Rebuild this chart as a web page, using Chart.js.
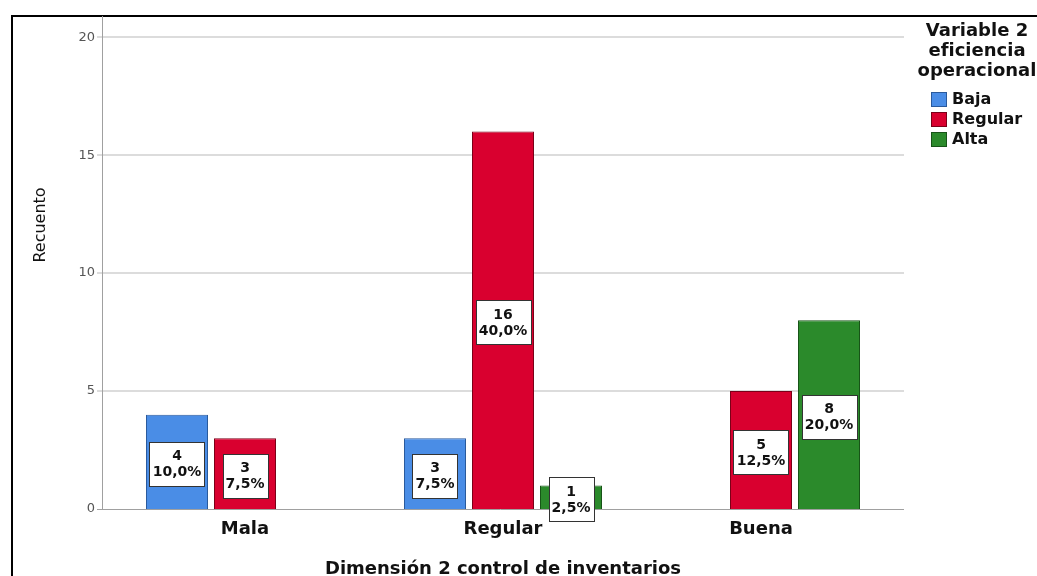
<!DOCTYPE html>
<html lang="es">
<head>
<meta charset="utf-8">
<title>Dimensión 2 control de inventarios</title>
<script src="https://cdn.jsdelivr.net/npm/chart.js@4.4.1/dist/chart.umd.min.js"></script>
<style>
  html, body { margin: 0; padding: 0; background: #fff; }
  canvas { display: block; }
</style>
</head>
<body>
<canvas id="grafico" width="1037" height="576"></canvas>
<script>
// datos
const categorias = ["Mala", "Regular", "Buena"];
const baja = [4, 3, null];
const regular = [3, 16, 5];
const alta = [null, 1, 8];
const ticksY = [0, 5, 10, 15, 20];
const tituloLeyenda = ["Variable 2", "eficiencia", "operacional"];

const total = [...baja, ...regular, ...alta].reduce((s, v) => s + (v || 0), 0);

function porcentaje(v) {
  return (v / total * 100).toFixed(1).replace(".", ",") + "%";
}

Chart.defaults.font.family = "'DejaVu Sans', sans-serif";

// fondo y marco negro
const pluginMarco = {
  id: "marco",
  beforeDraw(chart) {
    const ctx = chart.ctx;
    ctx.save();
    ctx.fillStyle = "#fff";
    ctx.fillRect(0, 0, chart.width, chart.height);
    ctx.strokeStyle = "#000";
    ctx.lineWidth = 2;
    ctx.strokeRect(12, 16, chart.width + 20, chart.height + 20);
    ctx.restore();
  }
};

// rejilla y ejes (un poco más anchos que el área de las barras, como en SPSS)
const pluginRejilla = {
  id: "rejilla",
  beforeDatasetsDraw(chart) {
    const { ctx, chartArea: a, scales: { y } } = chart;
    const izq = a.left - 14, der = a.right + 14;
    ctx.save();
    ctx.strokeStyle = "#dcdcdc";
    ctx.lineWidth = 2;
    ticksY.slice(1).forEach(v => {
      const py = Math.round(y.getPixelForValue(v));
      ctx.beginPath(); ctx.moveTo(izq - 5, py); ctx.lineTo(der, py); ctx.stroke();
    });
    ctx.strokeStyle = "#a0a0a0";
    ctx.lineWidth = 1;
    const y0 = Math.round(y.getPixelForValue(0)) + 0.5;
    ctx.beginPath(); ctx.moveTo(izq - 5, y0); ctx.lineTo(der, y0); ctx.stroke();
    ctx.beginPath(); ctx.moveTo(izq + 0.5, a.top); ctx.lineTo(izq + 0.5, y0); ctx.stroke();
    ctx.restore();
  }
};

// cajas con recuento y porcentaje
const pluginEtiquetas = {
  id: "etiquetas",
  afterDatasetsDraw(chart) {
    const ctx = chart.ctx;
    ctx.save();
    ctx.font = "bold 14px 'DejaVu Sans'";
    ctx.textAlign = "center";
    ctx.textBaseline = "middle";
    chart.data.datasets.forEach((ds, i) => {
      chart.getDatasetMeta(i).data.forEach((barra, j) => {
        const v = ds.data[j];
        if (v == null) return;
        const lineas = [String(v), porcentaje(v)];
        const ancho = Math.round(Math.max(...lineas.map(t => ctx.measureText(t).width)) + 6);
        const alto = 44;
        const cx = barra.x;
        const cy = (barra.y + barra.base) / 2 + 2;
        const bx = Math.round(cx - ancho / 2) + 0.5, by = Math.round(cy - alto / 2) + 0.5;
        ctx.fillStyle = "#fff";
        ctx.fillRect(bx, by, ancho, alto);
        ctx.strokeStyle = "#333";
        ctx.lineWidth = 1;
        ctx.strokeRect(bx, by, ancho, alto);
        ctx.fillStyle = "#111";
        ctx.fillText(lineas[0], cx, cy - 7);
        ctx.fillText(lineas[1], cx, cy + 9);
      });
    });
    ctx.restore();
  }
};

// leyenda a la derecha y título del eje Y
const pluginLeyenda = {
  id: "leyenda",
  afterDraw(chart) {
    const ctx = chart.ctx;
    ctx.save();
    ctx.fillStyle = "#111";
    ctx.textAlign = "center";
    ctx.textBaseline = "middle";
    ctx.font = "bold 18px 'DejaVu Sans'";
    tituloLeyenda.forEach((t, k) => ctx.fillText(t, 977, 31 + k * 20));

    ctx.textAlign = "left";
    ctx.font = "bold 16px 'DejaVu Sans'";
    chart.data.datasets.forEach((ds, k) => {
      const py = 100 + k * 20;
      ctx.fillStyle = ds.backgroundColor;
      ctx.fillRect(931, py - 8, 16, 15);
      ctx.strokeStyle = ds.borderColor;
      ctx.lineWidth = 1;
      ctx.strokeRect(931.5, py - 7.5, 15, 14);
      ctx.fillStyle = "#111";
      ctx.fillText(ds.label, 952, py);
    });

    ctx.translate(40.5, 225);
    ctx.rotate(-Math.PI / 2);
    ctx.textAlign = "center";
    ctx.font = "16px 'DejaVu Sans'";
    ctx.fillText("Recuento", 0, 0);
    ctx.restore();
  }
};

new Chart(document.getElementById("grafico"), {
  type: "bar",
  data: {
    labels: categorias,
    datasets: [
      { label: "Baja", data: baja, backgroundColor: "#4a8de6", borderColor: "#2a5a9c" },
      { label: "Regular", data: regular, backgroundColor: "#d9002f", borderColor: "#7a0018" },
      { label: "Alta", data: alta, backgroundColor: "#2b8a2b", borderColor: "#185418" }
    ]
  },
  options: {
    responsive: false,
    animation: false,
    devicePixelRatio: 1,
    layout: { padding: { left: 0, right: 147, top: 16, bottom: 0 } },
    datasets: {
      bar: { borderWidth: 1, categoryPercentage: 0.7907, barPercentage: 0.912 }
    },
    plugins: {
      legend: { display: false },
      tooltip: { enabled: false }
    },
    scales: {
      x: {
        grid: { display: false, drawTicks: false },
        border: { display: false },
        ticks: { color: "#111", font: { size: 18, weight: "bold" }, padding: 10 },
        title: {
          display: true,
          text: "Dimensión 2 control de inventarios",
          color: "#111",
          font: { size: 18, weight: "bold" },
          padding: { top: 0, bottom: -4 }
        },
        afterFit(s) { s.height = 67; s.paddingLeft = 0; s.paddingRight = 0; }
      },
      y: {
        min: 0,
        max: 20.9,
        grid: { display: false, drawTicks: false },
        border: { display: false },
        ticks: { color: "#555", font: { size: 13 }, padding: 21 },
        afterBuildTicks(s) { s.ticks = ticksY.map(v => ({ value: v })); },
        afterFit(s) { s.width = 116; s.paddingTop = 0; s.paddingBottom = 0; }
      }
    }
  },
  plugins: [pluginMarco, pluginRejilla, pluginEtiquetas, pluginLeyenda]
});
</script>
</body>
</html>
